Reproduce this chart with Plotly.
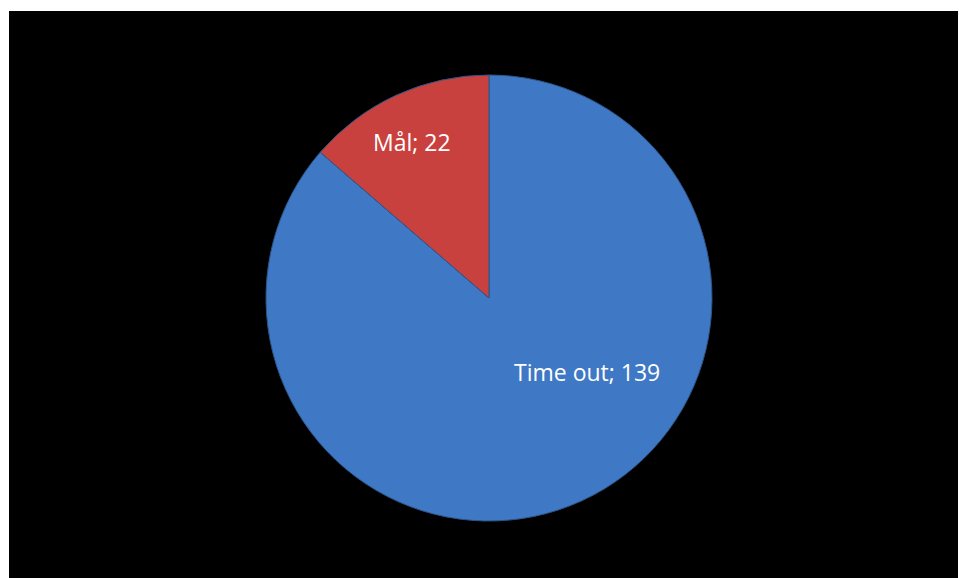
import plotly.graph_objects as go

labels = ["Time out", "Mål"]
values = [139, 22]
colors = ["#3f78c4", "#c9413e"]

W, H = 959, 578
cx, cy, r = 489, 298, 223
# label centres in pixels (Excel-style placement)
label_px = [(587, 372), (412, 142)]

fig = go.Figure()
fig.add_pie(
    labels=labels, values=values, sort=False,
    direction="clockwise", rotation=0,
    marker=dict(colors=colors, line=dict(color="#2d5589", width=1)),
    textinfo="none",
    domain=dict(x=[(cx - r) / W, (cx + r) / W], y=[(H - cy - r) / H, (H - cy + r) / H]),
    showlegend=False, hoverinfo="label+value",
)
for lab, val, (px, py) in zip(labels, values, label_px):
    fig.add_annotation(x=px / W, y=(H - py) / H, xref="paper", yref="paper",
                       text=f"{lab}; {val}", showarrow=False,
                       xanchor="center", yanchor="middle",
                       font=dict(family="Open Sans", size=23, color="white"))
fig.add_shape(type="rect", xref="paper", yref="paper", x0=9 / W, x1=958 / W, y0=0, y1=(H - 11) / H,
              fillcolor="black", line=dict(width=0), layer="below")
fig.update_layout(width=W, height=H, margin=dict(l=0, r=0, t=0, b=0),
                  paper_bgcolor="white", plot_bgcolor="white")
fig.write_html("out.html", config={"displayModeBar": False},
               post_script="document.body.style.margin='0';document.body.style.overflow='hidden';")
